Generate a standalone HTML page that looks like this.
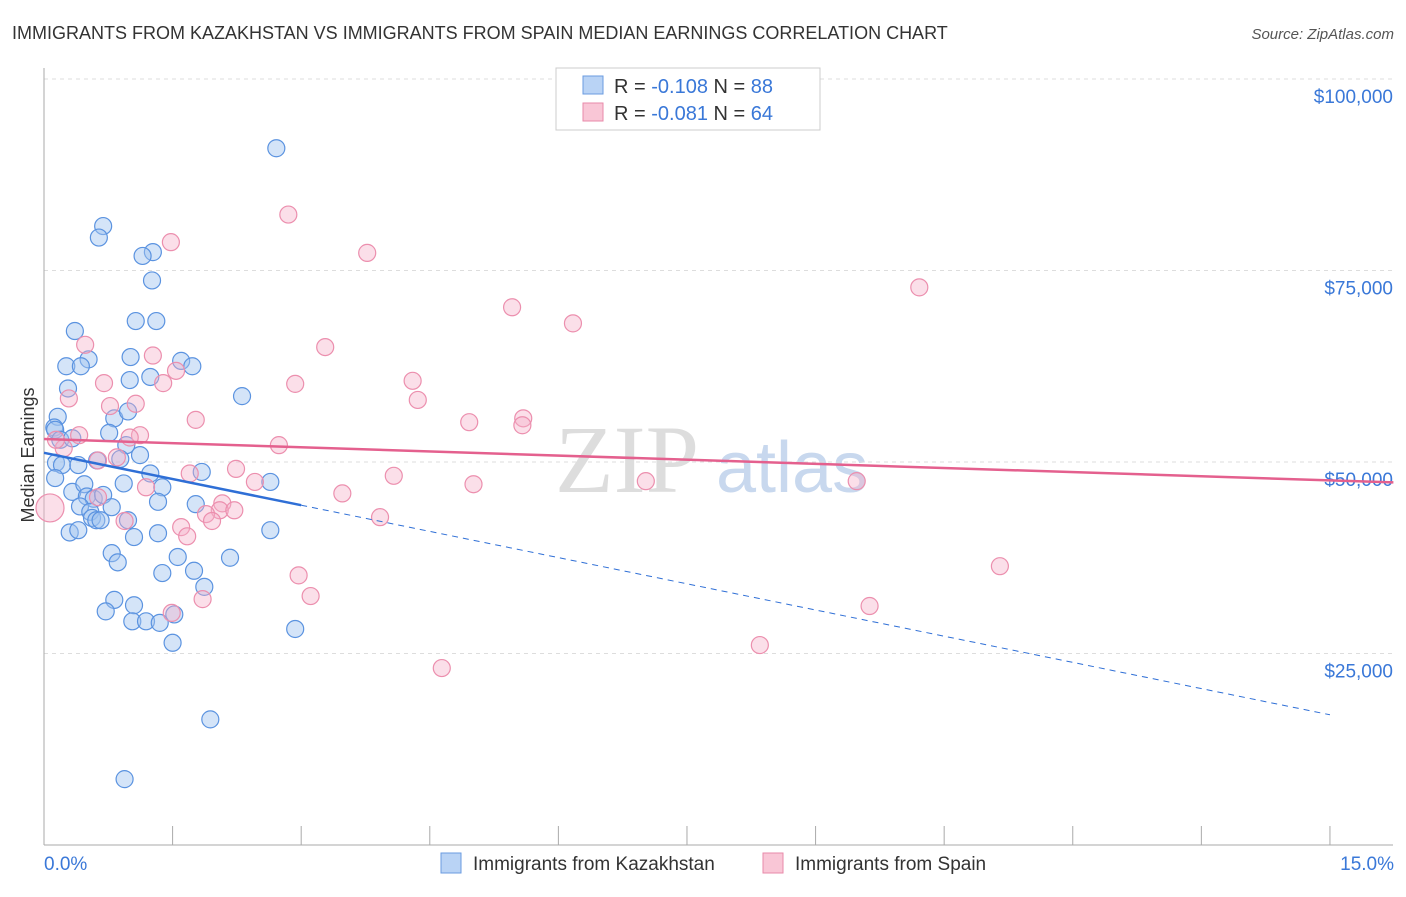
<!DOCTYPE html>
<html><head><meta charset="utf-8"><style>
body{margin:0;background:#fff;font-family:"Liberation Sans",sans-serif}
</style></head><body>
<svg id="c" width="1406" height="892" xmlns="http://www.w3.org/2000/svg" style="font-family:'Liberation Sans',sans-serif">
<text x="12" y="39" font-size="18" fill="#333">IMMIGRANTS FROM KAZAKHSTAN VS IMMIGRANTS FROM SPAIN MEDIAN EARNINGS CORRELATION CHART</text>
<text x="1394" y="39" font-size="15" fill="#555" font-style="italic" text-anchor="end">Source: ZipAtlas.com</text>
<text x="34" y="455" font-size="18" fill="#333" text-anchor="middle" transform="rotate(-90 34 455)">Median Earnings</text>
<text x="555" y="492" font-size="96" fill="#ddd" font-family="Liberation Serif">ZIP</text>
<text x="716" y="492" font-size="72" fill="#c8d8ee">atlas</text>
<g id="grid"></g><g id="pts"></g><g id="trend"></g>
<g>
<rect x="556" y="68" width="264" height="62" fill="#fff" stroke="#ccc"/>
<rect x="583" y="76" width="20" height="18" fill="#b9d3f5" stroke="#6a9be0"/>
<rect x="583" y="103" width="20" height="18" fill="#f9c6d6" stroke="#e88aa9"/>
<text x="614" y="93" font-size="20" fill="#333">R = <tspan fill="#3a78d8">-0.108</tspan>   N = <tspan fill="#3a78d8">88</tspan></text>
<text x="614" y="120" font-size="20" fill="#333">R = <tspan fill="#3a78d8">-0.081</tspan>   N = <tspan fill="#3a78d8">64</tspan></text>
</g>
<g>
<rect x="441" y="853" width="20" height="20" fill="#b9d3f5" stroke="#6a9be0"/>
<text x="473" y="870" font-size="19" fill="#333">Immigrants from Kazakhstan</text>
<rect x="763" y="853" width="20" height="20" fill="#f9c6d6" stroke="#e88aa9"/>
<text x="795" y="870" font-size="19" fill="#333">Immigrants from Spain</text>
</g>
</svg>
<script>
const yTicks=[25000,50000,75000,100000];
const yTickLabels=["$25,000","$50,000","$75,000","$100,000"];
const xTickLabels=["0.0%","15.0%"];
const kazX=[2.71,0.69,0.64,1.27,1.15,1.26,1.07,1.31,0.36,0.52,0.26,0.43,1.01,1.60,1.73,1.00,1.24,0.28,2.31,0.16,0.82,0.98,0.12,0.13,0.76,0.96,0.19,0.33,1.12,1.24,0.14,0.21,0.40,0.62,0.89,1.84,2.64,0.93,1.38,0.13,0.33,0.47,0.50,0.58,0.69,1.33,1.77,0.42,0.79,0.54,0.56,0.61,0.66,0.98,0.30,0.40,1.33,2.64,1.05,0.79,0.86,1.56,1.38,1.75,1.87,2.17,0.82,0.72,1.05,1.03,1.19,1.35,1.52,1.50,2.93,1.94,0.94];
const kazY=[90.96,80.8,79.3,77.4,76.9,73.7,68.4,68.4,67.1,63.4,62.5,62.5,63.7,63.2,62.5,60.7,61.1,59.6,58.6,55.9,55.7,56.6,54.5,54.2,53.8,52.2,52.9,53.1,50.9,48.5,49.9,49.6,49.6,50.2,50.4,48.7,47.4,47.2,46.7,47.9,46.1,47.1,45.5,45.2,45.7,44.8,44.5,44.2,44.1,43.5,42.7,42.4,42.4,42.4,40.8,41.1,40.7,41.1,40.2,38.1,36.9,37.6,35.5,35.8,33.7,37.5,32.0,30.5,31.3,29.2,29.2,29.0,30.1,26.4,28.2,16.4,8.6];
const spX=[2.85,1.48,3.77,10.21,5.46,6.17,3.28,0.48,1.27,1.54,0.70,1.39,2.93,4.30,4.36,0.29,0.77,1.07,1.77,4.96,5.59,5.58,0.41,1.12,1.00,2.74,0.23,0.85,0.63,1.70,2.24,2.46,4.08,1.19,5.01,7.02,9.48,3.48,0.63,2.08,2.05,2.22,1.89,1.96,0.94,3.92,1.60,1.67,2.97,3.11,1.85,11.15,9.63,1.49,8.35,4.64,0.07,0.14];
const spY=[82.3,78.7,77.3,72.8,70.2,68.1,65.0,65.3,63.9,61.9,60.3,60.3,60.2,60.6,58.1,58.3,57.3,57.6,55.5,55.2,55.7,54.8,53.5,53.5,53.2,52.2,51.8,50.6,50.2,48.5,49.1,47.4,48.2,46.7,47.1,47.5,47.5,45.9,45.4,44.6,43.7,43.7,43.2,42.3,42.3,42.8,41.5,40.3,35.2,32.5,32.1,36.4,31.2,30.3,26.1,23.1,44.0,52.9];
const kazTrend=[51.2,17.0];
const spTrend=[53.0,47.6];
const NS="http://www.w3.org/2000/svg";
const sx=v=>44+v*85.73;
const sy=v=>845-v/25000*191.5;
function mk(p,t,a){const e=document.createElementNS(NS,t);for(const k in a)e.setAttribute(k,a[k]);p.appendChild(e);return e;}
const g=document.getElementById('grid');
yTicks.forEach((t,i)=>{
 const l=mk(g,'line',{x1:44,x2:1393,y1:sy(t),y2:sy(t),stroke:'#ddd','stroke-dasharray':'4,4'});
 
 
 const tx=mk(g,'text',{x:1393,y:sy(t)+24,'font-size':19,fill:'#3a78d8','text-anchor':'end'});
 tx.textContent=yTickLabels[i];
 
 
});
mk(g,'line',{x1:44,x2:44,y1:68,y2:845,stroke:'#aaa'});
mk(g,'line',{x1:44,x2:1393,y1:845,y2:845,stroke:'#aaa'});
for(let i=0;i<=10;i++){const t=mk(g,'line',{x1:sx(i*1.5),x2:sx(i*1.5),y1:826,y2:845,stroke:'#aaa'});}
const x0=mk(g,'text',{x:44,y:870,'font-size':19,fill:'#3a78d8'});x0.textContent=xTickLabels[0];


const x1=mk(g,'text',{x:1394,y:870,'font-size':19,fill:'#3a78d8','text-anchor':'end'});x1.textContent=xTickLabels[1];


const P=document.getElementById('pts');
kazX.forEach((x,i)=>{const c=mk(P,'circle',{cx:sx(x),cy:sy(kazY[i]*1000),r:8.5,fill:'rgba(160,196,240,0.45)',stroke:'#5b93e0','stroke-width':1.2});
 
 });
spX.forEach((x,i)=>{const c=mk(P,'circle',{cx:sx(x),cy:sy(spY[i]*1000),r:i==56?14:8.5,fill:'rgba(246,176,200,0.4)',stroke:'#ec8fae','stroke-width':1.2});
 
 });
const T=document.getElementById('trend');
const kf=x=>(kazTrend[0]+(kazTrend[1]-kazTrend[0])*x/15)*1000;
const pf=x=>(spTrend[0]+(spTrend[1]-spTrend[0])*x/15)*1000;
let l1=mk(T,'line',{x1:sx(0),y1:sy(kf(0)),x2:sx(3),y2:sy(kf(3)),stroke:'#2f6fd6','stroke-width':2.5});


let l2=mk(T,'line',{x1:sx(3),y1:sy(kf(3)),x2:sx(15),y2:sy(kf(15)),stroke:'#2f6fd6','stroke-width':1,'stroke-dasharray':'6,5'});


let l3=mk(T,'line',{x1:sx(0),y1:sy(pf(0)),x2:sx(15.74),y2:sy(pf(15.74)),stroke:'#e4608e','stroke-width':2.5});


</script>
</body></html>
